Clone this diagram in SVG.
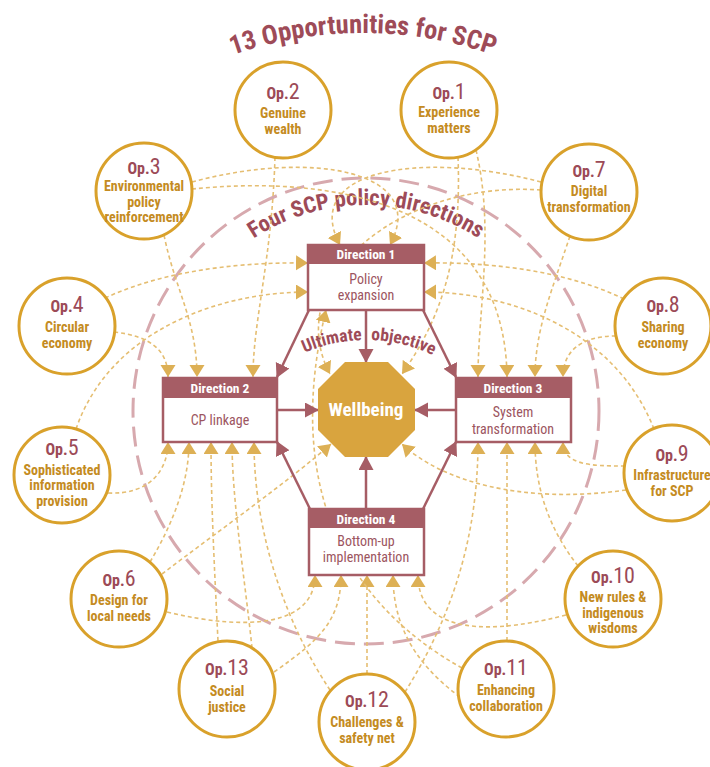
<svg xmlns="http://www.w3.org/2000/svg" width="710" height="767" viewBox="0 0 710 767">
<style>
  text{font-family:"Roboto Condensed","Liberation Sans Narrow","Roboto",sans-serif;text-anchor:middle}
  .op circle{fill:#fff;stroke:#D9A12B;stroke-width:3}
  .opn{fill:#9C4A57}
  .opp{font-size:16px;font-weight:bold}
  .num{font-size:22px;font-weight:normal}
  .lbl{fill:#C48B22;font-size:14px;font-weight:bold}
  .dir rect.box{fill:#fff;stroke:#A65D65;stroke-width:2.5}
  .dir rect.hd{fill:#A65D65}
  .hdt{fill:#fff;font-size:13.5px;font-weight:bold}
  .bt{fill:#9C5560;font-size:14px}
  .dash{fill:none;stroke:#E5BE72;stroke-width:1.6;stroke-dasharray:4 3;marker-end:url(#ag)}
  .sol{fill:none;stroke:#A65D65;stroke-width:2.5;marker-end:url(#am)}
  .arc{fill:#9E4B58;font-weight:bold}
</style>
<defs>
  <marker id="ag" markerUnits="userSpaceOnUse" markerWidth="14" markerHeight="16" refX="12" refY="7.5" orient="auto"><path d="M0,0 L12,7.5 L0,15 z" fill="#DDB055"/></marker>
  <marker id="am" markerUnits="userSpaceOnUse" markerWidth="16" markerHeight="16" refX="13" refY="7.5" orient="auto"><path d="M0,0 L14,7.5 L0,15 z" fill="#A65D65"/></marker>
  <path id="titleArc" d="M196,70 A395,395 0 0 1 530,70"/>
  <path id="fourArc" d="M233.6,253.2 A206,206 0 0 1 498.4,253.2"/>
  <path id="ultArc" d="M289.5,360.5 A153,153 0 0 1 442.5,360.5"/>
</defs>

<text class="arc" font-size="26.5"><textPath href="#titleArc" startOffset="50%">13 Opportunities for SCP</textPath></text>

<circle cx="366" cy="411" r="233" fill="none" stroke="#D7A9AE" stroke-width="3" stroke-dasharray="20 9"/>
<text class="arc" font-size="22.5"><textPath href="#fourArc" startOffset="50%">Four SCP policy directions</textPath></text>

<g id="connectors">
  <path class="dash" d="M541,182 C420,150 300,170 340,245"/>
  <path class="dash" d="M192,182 C310,150 430,170 390,245"/>
  <path class="dash" d="M192,189 C330,175 505,200 507,377"/>
  <path class="dash" d="M541,190 C400,180 280,280 330,374"/>
  <path class="dash" d="M164,235 C175,290 197,320 197,377"/>
  <path class="dash" d="M275,157 C272,260 253,320 253,377"/>
  <path class="dash" d="M476,150 C495,230 478,310 478,377"/>
  <path class="dash" d="M458,157 C462,260 440,320 402,374"/>
  <path class="dash" d="M570,236 C552,290 535,330 535,377"/>
  <path class="dash" d="M114,332 C150,336 168,350 168,377"/>
  <path class="dash" d="M105,298 C170,268 250,262 308,263"/>
  <path class="dash" d="M616,336 C580,336 563,352 563,377"/>
  <path class="dash" d="M624,299 C560,268 480,262 424,263"/>
  <path class="dash" d="M76,429 C110,330 220,292 308,292"/>
  <path class="dash" d="M654,429 C615,330 510,292 424,292"/>
  <path class="dash" d="M108,493 C150,495 168,470 168,442"/>
  <path class="dash" d="M625,466 C590,466 563,465 563,442"/>
  <path class="dash" d="M626,490 C520,505 440,480 402,444"/>
  <path class="dash" d="M150,562 C175,520 189,480 189,442"/>
  <path class="dash" d="M162,574 C220,530 290,480 331,444"/>
  <path class="dash" d="M167,612 C250,632 315,625 315,575"/>
  <path class="dash" d="M218,641 C214,560 211,500 211,442"/>
  <path class="dash" d="M252,648 C245,580 232,500 232,442"/>
  <path class="dash" d="M274,672 C320,640 341,620 341,575"/>
  <path class="dash" d="M330,690 C290,630 254,540 254,442"/>
  <path class="dash" d="M367,674 L367,575"/>
  <path class="dash" d="M405,692 C450,620 478,540 478,442"/>
  <path class="dash" d="M460,697 C410,660 393,620 393,575"/>
  <path class="dash" d="M507,641 L507,442"/>
  <path class="dash" d="M462,668 C340,600 285,480 326,310"/>
  <path class="dash" d="M566,615 C470,640 418,625 418,575"/>
  <path class="dash" d="M578,566 C550,530 535,490 535,442"/>

  <path class="sol" d="M366,310 L366,362"/>
  <path class="sol" d="M309,310 L277,377"/>
  <path class="sol" d="M423,310 L456,377"/>
  <path class="sol" d="M277,410 L318,410"/>
  <path class="sol" d="M456,410 L415,410"/>
  <path class="sol" d="M366,509 L366,457"/>
  <path class="sol" d="M310,509 L277,442"/>
  <path class="sol" d="M423,509 L456,442"/>
</g>

<g id="wellbeing">
  <polygon points="345,362 388,362 415,389 415,430 388,457 345,457 318,430 318,389" fill="#D9A43E"/>
  <text x="366" y="416" fill="#fff" font-size="19" font-weight="bold">Wellbeing</text>
</g>
<text class="arc" font-size="17.5"><textPath href="#ultArc" startOffset="76" style="text-anchor:end">Ultimate</textPath></text>
<text class="arc" font-size="17.5"><textPath href="#ultArc" startOffset="85" style="text-anchor:start">objective</textPath></text>

<g id="dir1" class="dir">
  <rect class="box" x="308" y="245" width="116" height="65"/>
  <rect class="hd" x="308" y="245" width="116" height="19"/>
  <text class="hdt" x="366" y="259">Direction 1</text>
  <text class="bt" x="366" y="284">Policy<tspan x="366" dy="16">expansion</tspan></text>
</g>
<g id="dir2" class="dir">
  <rect class="box" x="163" y="378" width="114" height="64"/>
  <rect class="hd" x="163" y="378" width="114" height="20"/>
  <text class="hdt" x="220" y="393">Direction 2</text>
  <text class="bt" x="220" y="425">CP linkage</text>
</g>
<g id="dir3" class="dir">
  <rect class="box" x="456" y="378" width="115" height="64"/>
  <rect class="hd" x="456" y="378" width="115" height="20"/>
  <text class="hdt" x="513" y="393">Direction 3</text>
  <text class="bt" x="513" y="417">System<tspan x="513" dy="16.5">transformation</tspan></text>
</g>
<g id="dir4" class="dir">
  <rect class="box" x="309" y="509" width="115" height="66"/>
  <rect class="hd" x="309" y="509" width="115" height="19"/>
  <text class="hdt" x="366" y="524">Direction 4</text>
  <text class="bt" x="366" y="546">Bottom-up<tspan x="366" dy="16">implementation</tspan></text>
</g>

<g id="op1" class="op"><circle cx="449" cy="110" r="48"/>
  <text class="opn" x="449" y="99"><tspan class="opp">Op.</tspan><tspan class="num">1</tspan><tspan class="lbl" x="449" dy="18">Experience</tspan><tspan class="lbl" x="449" dy="16">matters</tspan></text></g>
<g id="op2" class="op"><circle cx="283" cy="110" r="48"/>
  <text class="opn" x="283" y="99"><tspan class="opp">Op.</tspan><tspan class="num">2</tspan><tspan class="lbl" x="283" dy="19">Genuine</tspan><tspan class="lbl" x="283" dy="16">wealth</tspan></text></g>
<g id="op3" class="op"><circle cx="144" cy="191" r="48"/>
  <text class="opn" x="144" y="174"><tspan class="opp">Op.</tspan><tspan class="num">3</tspan><tspan class="lbl" x="144" dy="17">Environmental</tspan><tspan class="lbl" x="144" dy="15.5">policy</tspan><tspan class="lbl" x="144" dy="15.5">reinforcement</tspan></text></g>
<g id="op7" class="op"><circle cx="589" cy="192" r="48"/>
  <text class="opn" x="589" y="177"><tspan class="opp">Op.</tspan><tspan class="num">7</tspan><tspan class="lbl" x="589" dy="19">Digital</tspan><tspan class="lbl" x="589" dy="16">transformation</tspan></text></g>
<g id="op4" class="op"><circle cx="67" cy="326" r="48"/>
  <text class="opn" x="67" y="312"><tspan class="opp">Op.</tspan><tspan class="num">4</tspan><tspan class="lbl" x="67" dy="20">Circular</tspan><tspan class="lbl" x="67" dy="16">economy</tspan></text></g>
<g id="op8" class="op"><circle cx="663" cy="326" r="48"/>
  <text class="opn" x="663" y="312"><tspan class="opp">Op.</tspan><tspan class="num">8</tspan><tspan class="lbl" x="663" dy="20">Sharing</tspan><tspan class="lbl" x="663" dy="16">economy</tspan></text></g>
<g id="op5" class="op"><circle cx="62" cy="475" r="48"/>
  <text class="opn" x="62" y="455"><tspan class="opp">Op.</tspan><tspan class="num">5</tspan><tspan class="lbl" x="62" dy="19.5">Sophisticated</tspan><tspan class="lbl" x="62" dy="15.5">information</tspan><tspan class="lbl" x="62" dy="15.5">provision</tspan></text></g>
<g id="op9" class="op"><circle cx="672" cy="473" r="48"/>
  <text class="opn" x="672" y="461"><tspan class="opp">Op.</tspan><tspan class="num">9</tspan><tspan class="lbl" x="672" dy="19">Infrastructure</tspan><tspan class="lbl" x="672" dy="16">for SCP</tspan></text></g>
<g id="op6" class="op"><circle cx="119" cy="599" r="48"/>
  <text class="opn" x="119" y="586"><tspan class="opp">Op.</tspan><tspan class="num">6</tspan><tspan class="lbl" x="119" dy="19">Design for</tspan><tspan class="lbl" x="119" dy="16">local needs</tspan></text></g>
<g id="op10" class="op"><circle cx="613" cy="599" r="48"/>
  <text class="opn" x="613" y="583"><tspan class="opp">Op.</tspan><tspan class="num">10</tspan><tspan class="lbl" x="613" dy="19">New rules &amp;</tspan><tspan class="lbl" x="613" dy="15.5">indigenous</tspan><tspan class="lbl" x="613" dy="15.5">wisdoms</tspan></text></g>
<g id="op13" class="op"><circle cx="227" cy="689" r="48"/>
  <text class="opn" x="227" y="675"><tspan class="opp">Op.</tspan><tspan class="num">13</tspan><tspan class="lbl" x="227" dy="21">Social</tspan><tspan class="lbl" x="227" dy="16">justice</tspan></text></g>
<g id="op11" class="op"><circle cx="506" cy="689" r="48"/>
  <text class="opn" x="506" y="675"><tspan class="opp">Op.</tspan><tspan class="num">11</tspan><tspan class="lbl" x="506" dy="20">Enhancing</tspan><tspan class="lbl" x="506" dy="16">collaboration</tspan></text></g>
<g id="op12" class="op"><circle cx="367" cy="722" r="48"/>
  <text class="opn" x="367" y="707"><tspan class="opp">Op.</tspan><tspan class="num">12</tspan><tspan class="lbl" x="367" dy="20">Challenges &amp;</tspan><tspan class="lbl" x="367" dy="16">safety net</tspan></text></g>
</svg>
